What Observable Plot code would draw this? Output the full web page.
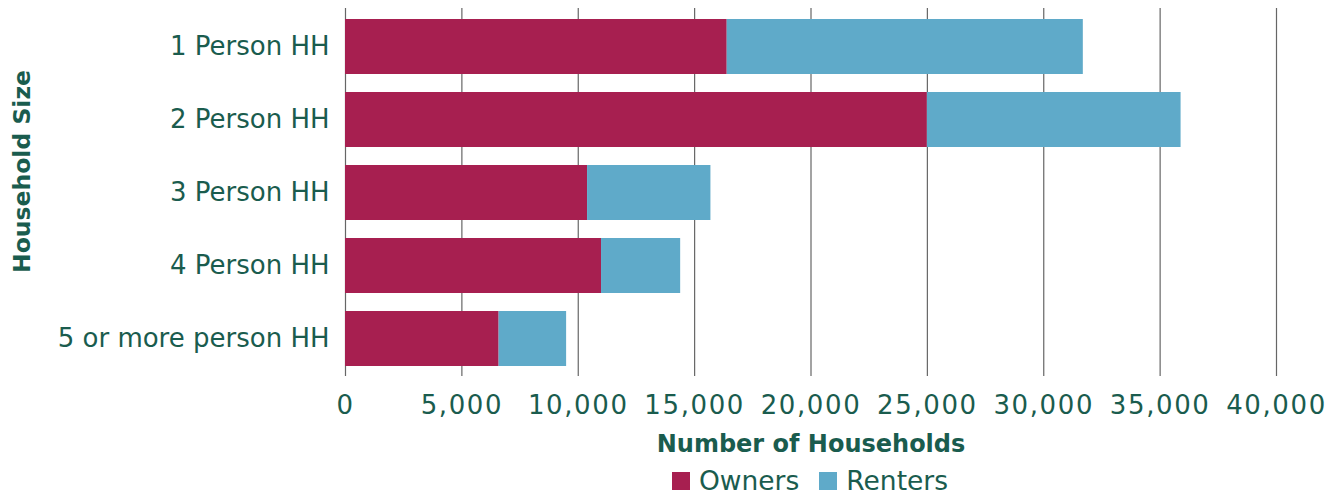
<!DOCTYPE html>
<html><head><meta charset="utf-8">
<script src="https://cdn.jsdelivr.net/npm/d3@7"></script>
<script src="https://cdn.jsdelivr.net/npm/@observablehq/plot@0.6"></script>
<style>
body{margin:0;background:#fff;font-family:"DejaVu Sans",sans-serif;}
#chart{width:1340px;}
#legendWrap{display:flex;justify-content:center;padding-left:300px;margin-top:2px;}
.lg-swatch svg{margin-right:9px !important;}
.lg-swatch{margin-right:20px !important;}
g[aria-label="x-axis tick label"] text{letter-spacing:1.6px;}
</style></head><body><div id="chart"></div>
<script>
const categories = ["1 Person HH", "2 Person HH", "3 Person HH", "4 Person HH", "5 or more person HH"];
const owners  = [16400, 25000, 10400, 11000, 6600];
const renters = [15300, 10900, 5300, 3400, 2900];
const tenure = ["Owners", "Renters"];
const tenureColors = ["#a71f50", "#5faac9"];
const xTicks = [0, 5000, 10000, 15000, 20000, 25000, 30000, 35000, 40000];
const xTitle = "Number of Households";
const yTitle = "Household Size";
const textColor = "#1a5c4e";

const data = categories.flatMap((c, i) => [
  {size: c, tenure: "Owners", value: owners[i]},
  {size: c, tenure: "Renters", value: renters[i]}
]);

const plot = Plot.plot({
  width: 1340, height: 462,
  marginLeft: 345, marginRight: 64, marginTop: 8, marginBottom: 86,
  style: {fontFamily: "DejaVu Sans", fontSize: "25px", color: textColor, background: "#fff", overflow: "visible"},
  x: {domain: [0, 40000]},
  y: {domain: categories, paddingInner: 0.25, paddingOuter: 0.145},
  color: {domain: tenure, range: tenureColors},
  marks: [
    Plot.ruleX(xTicks, {stroke: "#666", strokeWidth: 1.2}),
    Plot.barX(data, {x: "value", y: "size", fill: "tenure"}),
    Plot.axisX({ticks: xTicks, tickSize: 0, tickPadding: 19, tickFormat: d3.format(","), fontSize: 26, fill: textColor,
                label: xTitle, labelAnchor: "center", labelArrow: "none", labelOffset: 75}),
    Plot.axisY({tickSize: 0, tickPadding: 16, fontSize: 26, fill: textColor, label: null}),
    Plot.text([yTitle], {frameAnchor: "left", textAnchor: "middle", lineAnchor: "middle", rotate: -90, dx: -323, dy: -21,
                         fontWeight: "bold", fontSize: 23.5, fill: textColor})
  ]
});
d3.select(plot).selectAll('g[aria-label="x-axis label"] text').attr("font-weight", "bold").attr("font-size", 24);
document.getElementById("chart").appendChild(plot);

const legend = Plot.legend({
  color: {domain: tenure, range: tenureColors},
  swatchSize: 18, className: "lg",
  style: {fontFamily: "DejaVu Sans", fontSize: "26.5px", color: textColor}
});
const wrap = document.createElement("div");
wrap.id = "legendWrap";
wrap.appendChild(legend);
document.getElementById("chart").appendChild(wrap);
</script></body></html>
